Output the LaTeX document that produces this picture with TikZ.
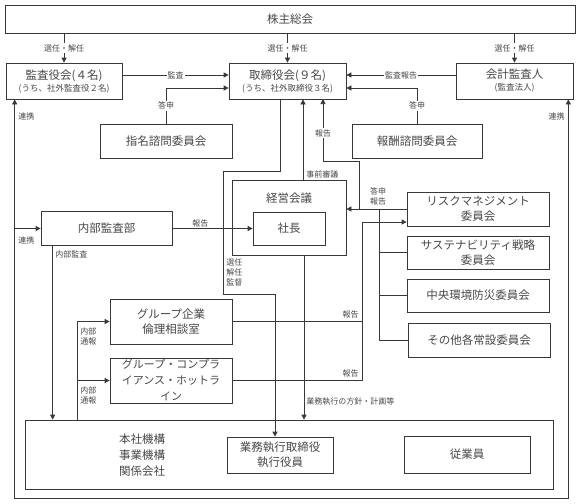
\documentclass[tikz,border=0pt]{standalone}
\usepackage{fontspec}
\setmainfont{Noto Sans CJK JP}
\usetikzlibrary{arrows.meta, calc}
\definecolor{lineGray}{gray}{0.22}
\definecolor{textGray}{gray}{0.28}
\tikzset{
  box/.style={draw=lineGray, line width=0.7pt, align=center, inner sep=0pt, text=textGray, font=\fontsize{11.5}{15}\selectfont},
  arr/.style={-{Triangle[length=5pt,width=5pt]}},
  arrboth/.style={{Triangle[length=5pt,width=5pt]}-{Triangle[length=5pt,width=5pt]}},
  lbl/.style={font=\fontsize{8}{10}\selectfont, text=textGray, inner sep=1pt},
  lblw/.style={lbl, fill=white},
}
\newcommand{\subtxt}[1]{{\fontsize{8.5}{10}\selectfont #1}}

\begin{document}
\begin{tikzpicture}[x=1pt, y=-1pt, line width=0.7pt, draw=lineGray]
	\useasboundingbox (0,0) rectangle (580,503);

	% boxes
	\node[box, minimum width=570, minimum height=28] (soukai) at (290,19) {株主総会};
	\node[box, minimum width=116, minimum height=36] (kansa) at (64,81) {監査役会(４名)\\[-3pt]\subtxt{(うち、社外監査役２名)}};
	\node[box, minimum width=117, minimum height=36] (tori) at (287.5,81) {取締役会(９名)\\[-3pt]\subtxt{(うち、社外取締役３名)}};
	\node[box, minimum width=117, minimum height=36] (kaikei) at (514.5,81) {会計監査人\\[-3pt]\subtxt{(監査法人)}};
	\node[box, minimum width=132, minimum height=34] (shimei) at (166,141) {指名諮問委員会};
	\node[box, minimum width=130, minimum height=34] (houshu) at (417,141) {報酬諮問委員会};
	\node[box, minimum width=114, minimum height=75] (keiei) at (289,217.5) {};
	\node[text=textGray, font=\fontsize{11.5}{15}\selectfont] (keieiT) at (289,198) {経営会議};
	\node[box, minimum width=72, minimum height=33] (shacho) at (289,228.5) {社長};
	\node[box, minimum width=131, minimum height=34] (naibu) at (106.5,228.5) {内部監査部};
	\node[box, minimum width=142, minimum height=34] (risk) at (478,209) {リスクマネジメント\\委員会};
	\node[box, minimum width=142, minimum height=33] (sust) at (478,252.5) {サステナビリティ戦略\\委員会};
	\node[box, minimum width=142, minimum height=33] (chuo) at (478,295.5) {中央環境防災委員会};
	\node[box, minimum width=142, minimum height=34] (other) at (479,340) {その他各常設委員会};
	\node[box, minimum width=122, minimum height=45] (group) at (171,321.5) {グループ企業\\倫理相談室};
	\node[box, minimum width=122, minimum height=45, font=\fontsize{11}{16}\selectfont] (hotline) at (171,380.5) {グループ・コンプラ\\イアンス・ホットラ\\イン};
	\node[box, minimum width=528, minimum height=69] (honsha) at (289,454.5) {};
	\node[text=textGray, align=center, font=\fontsize{11.5}{16}\selectfont] (honshaT) at (142,455) {本社機構\\事業機構\\関係会社};
	\node[box, minimum width=106, minimum height=36] (gyomu) at (280,455) {業務執行取締役\\執行役員};
	\node[box, minimum width=126, minimum height=37] (jugyo) at (467,454.5) {従業員};

	% general meeting
	\draw[arr] (soukai.south -| kansa.north) -- node[lblw] {選任・解任} (kansa.north);
	\draw[arr] (soukai.south -| tori.north) -- node[lblw] {選任・解任} (tori.north);
	\draw[arr] (soukai.south -| kaikei.north) -- node[lblw] {選任・解任} (kaikei.north);

	% into the board
	\draw[arr] ([yshift=6pt]kansa.east) -- node[lblw] {監査} ([yshift=6pt]kansa.east -| tori.west);
	\draw[arr] ([yshift=6pt]kaikei.east -| kaikei.west) -- node[lblw] {監査報告} ([yshift=6pt]kaikei.west -| tori.east);
	\draw[arr] (shimei.north) |- node[lblw, pos=0.25] {答申} ([yshift=-7pt]tori.west);
	\draw[arr] (houshu.north) |- node[lblw, pos=0.25] {答申} ([yshift=-7pt]tori.east);

	% outer loop
	\coordinate (loopL) at ([xshift=9pt]kansa.south west);
	\draw[arrboth] (loopL) -- ++(0,399) -| ([xshift=-5pt]kaikei.south east);
	\node[lbl, anchor=west] (renkeiA) at (17,116) {連携};
	\node[lbl, anchor=east] (renkeiB) at (566,116) {連携};
	\draw[arr] (naibu.west -| loopL) -- (naibu.west);
	\node[lbl, anchor=west] (renkeiC) at (17,240) {連携};

	% internal audit
	\draw[arr] ([xshift=12pt]naibu.south west) -- ([xshift=12pt]naibu.south west |- honsha.north);
	\node[lbl, anchor=west] (naibuL) at (54,254) {内部監査};
	\draw[arr] (naibu) -- node[lbl, pos=0.35, above] {報告} (shacho);

	% appointment / supervision
	\draw[arr] ([xshift=-7.5pt]tori.south) |- (223,171) -- (223,294) -| ([xshift=-5pt]gyomu.north);
	\node[lbl, anchor=north west, align=left] (senninL) at (225,257) {選任\\解任\\監督};

	% management meeting
	\draw[arr] ([xshift=14pt]keiei.north) -- ([xshift=14pt]keiei.north |- tori.south);
	\node[lbl, anchor=south west] (jizenL) at (305,180) {事前審議};
	\draw[arr] (risk.west) -- (risk.west -| keiei.east);
	\node[lbl, anchor=south, align=center] (toushinL) at (378,207) {答申\\報告};
	\draw[arr] (risk.west -| 359,0) |- (323,161) -- node[lblw, pos=0.45] {報告} (323,99);

	% committees
	\draw (379,209) |- (other.west);
	\draw (sust.west -| 379,0) -- (sust.west);
	\draw (chuo.west -| 379,0) -- (chuo.west);

	% reports to risk committee
	\coordinate (rj) at (362,0);
	\draw[arr] (group.east) -- (group.east -| rj) |- ([yshift=-13pt]risk.west);
	\draw (hotline.east) -| (group.east -| rj);
	\node[lbl, anchor=south east] (houkokuA) at (360,320) {報告};
	\node[lbl, anchor=south east] (houkokuB) at (360,379) {報告};

	% internal reporting
	\draw[arr] (honsha.north -| 77,0) |- (group.west);
	\draw[arr] (hotline.west -| 77,0) -- (hotline.west);
	\node[lbl, anchor=north west, align=left] (tsuhoA) at (79,326) {内部\\通報};
	\node[lbl, anchor=north west, align=left] (tsuhoB) at (79,385) {内部\\通報};

	% business execution
	\draw[arr] ([xshift=15pt]keiei.south) -- ([xshift=15pt]keiei.south |- honsha.north);
	\node[lbl, anchor=west] (houshinL) at (305,402) {業務執行の方針・計画等};
\end{tikzpicture}
\end{document}
